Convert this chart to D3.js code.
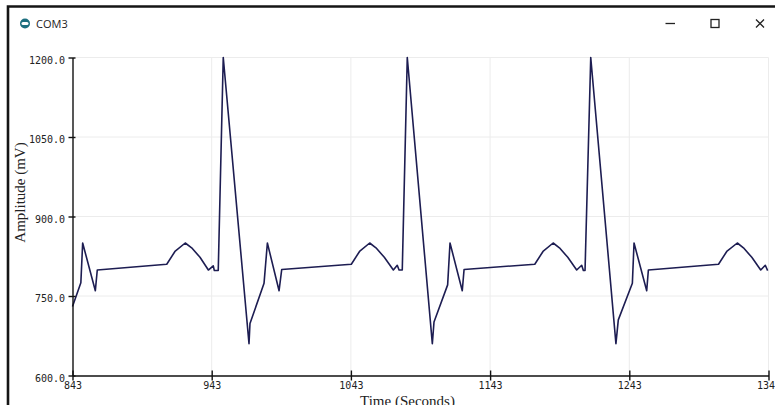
<!DOCTYPE html>
<meta charset="utf-8">
<style>
    body {
        margin: 0;
        background: #fff;
    }

    svg {
        display: block;
    }

    .axis text {
        font-family: "DejaVu Sans Mono";
        font-size: 10px;
        fill: #222;
    }

    .axis path,
    .axis line {
        stroke: #111;
        stroke-width: 1.4px;
    }

    .grid line {
        stroke: #ececec;
        stroke-width: 1px;
    }

    .title {
        font-family: "Open Sans";
        font-size: 11px;
        fill: #222;
    }

    .label {
        font-family: "Liberation Serif";
        font-size: 15px;
        fill: #222;
    }
</style>
<svg width="775" height="405"></svg>
<script src="https://d3js.org/d3.v7.min.js"></script>
<script>
    // samples (vertices of the trace)
    var time = [843, 849, 850.3, 859.4, 860.8, 910.7, 916.6, 924, 928.6, 934.6, 940.6, 944.1, 944.9, 947.7,
        951.3, 969.8, 970.5, 980.6, 983, 991.4, 993.3, 1043.3, 1049.2, 1056.5, 1061, 1067, 1073.5, 1076.3, 1077.6, 1079.9,
        1083.5, 1101.5, 1102.7, 1112.5, 1114.2, 1123, 1124.3, 1175.1, 1181, 1188.3, 1192.8, 1198.8, 1205.2, 1208.8, 1210, 1211.2,
        1215.3, 1233.4, 1235.1, 1245.2, 1246.4, 1255.5, 1256.7, 1307.1, 1313, 1320.6, 1325, 1331, 1337.4, 1340.7, 1342.4];
    var amplitude = [730, 775, 850, 760, 799, 810, 834, 850, 841, 823, 799, 807, 798, 798,
        1200, 660, 698, 774, 850, 760, 800, 810, 834, 850, 841, 823, 799, 808, 799, 799,
        1200, 660, 701, 771, 850, 760, 800, 810, 834, 850, 841, 823, 799, 808, 798, 798,
        1200, 660, 705, 774, 850, 760, 799, 810, 834, 850, 841, 823, 799, 808, 798];

    var xTicks = [843, 943, 1043, 1143, 1243, 1343];
    var yTicks = [600, 750, 900, 1050, 1200];

    var svg = d3.select("svg"),
        width = +svg.attr("width"),
        height = +svg.attr("height");

    var x = d3.scaleLinear().domain([843, 1343]).range([72.5, 768.5]);
    var y = d3.scaleLinear().domain([600, 1200]).range([375.5, 57.5]);

    // window frame
    svg.append("path")
        .attr("d", "M8,405 V6.5 H775")
        .attr("fill", "none")
        .attr("stroke", "#151515")
        .attr("stroke-width", 2.6);

    // title bar
    svg.append("circle").attr("cx", 25).attr("cy", 23.5).attr("r", 5).attr("fill", "#1d6f7f");
    svg.append("rect").attr("x", 21.5).attr("y", 22).attr("width", 7).attr("height", 3).attr("rx", 1.5).attr("fill", "#fff");
    svg.append("text").attr("class", "title").attr("x", 36).attr("y", 27.5).text("COM3");

    var ctrl = svg.append("g").attr("fill", "none").attr("stroke", "#222").attr("stroke-width", 1.3);
    ctrl.append("path").attr("d", "M665.5,23.5 H675");
    ctrl.append("rect").attr("x", 711).attr("y", 19.5).attr("width", 8).attr("height", 8);
    ctrl.append("path").attr("d", "M756,19.5 L764,27.5 M764,19.5 L756,27.5");

    // grid
    var grid = svg.append("g").attr("class", "grid");
    grid.selectAll(".gx")
        .data(xTicks.slice(1))
        .enter().append("line")
        .attr("x1", function (d) { return x(d); })
        .attr("x2", function (d) { return x(d); })
        .attr("y1", y(600))
        .attr("y2", y(1200));
    grid.selectAll(".gy")
        .data(yTicks.slice(1))
        .enter().append("line")
        .attr("x1", x(843))
        .attr("x2", x(1343))
        .attr("y1", function (d) { return y(d); })
        .attr("y2", function (d) { return y(d); });

    // trace
    var line = d3.line()
        .x(function (d) { return x(d[0]); })
        .y(function (d) { return y(d[1]); });

    svg.append("path")
        .datum(time.map(function (t, i) { return [t, amplitude[i]]; }))
        .attr("fill", "none")
        .attr("stroke", "#1d1d52")
        .attr("stroke-width", 1.6)
        .attr("stroke-linejoin", "round")
        .attr("d", line);

    // axes
    var xAxis = svg.append("g")
        .attr("class", "axis")
        .attr("transform", "translate(0," + y(600) + ")")
        .call(d3.axisBottom(x).tickValues(xTicks).tickFormat(d3.format("d")).tickSize(5).tickSizeOuter(0).tickPadding(1.5));
    xAxis.selectAll(".tick line").attr("y1", -5);

    var yAxis = svg.append("g")
        .attr("class", "axis")
        .attr("transform", "translate(" + x(843) + ",0)")
        .call(d3.axisLeft(y).tickValues(yTicks).tickFormat(d3.format(".1f")).tickSize(4).tickSizeOuter(0).tickPadding(3.5));
    yAxis.selectAll(".tick line").attr("x1", 3);
    yAxis.selectAll(".tick text").attr("dy", "0.55em");

    // axis titles
    svg.append("text")
        .attr("class", "label")
        .attr("text-anchor", "middle")
        .attr("x", 407.5)
        .attr("y", 406)
        .text("Time (Seconds)");

    svg.append("text")
        .attr("class", "label")
        .attr("text-anchor", "middle")
        .attr("transform", "translate(25,192.5) rotate(-90)")
        .text("Amplitude (mV)");
</script>
